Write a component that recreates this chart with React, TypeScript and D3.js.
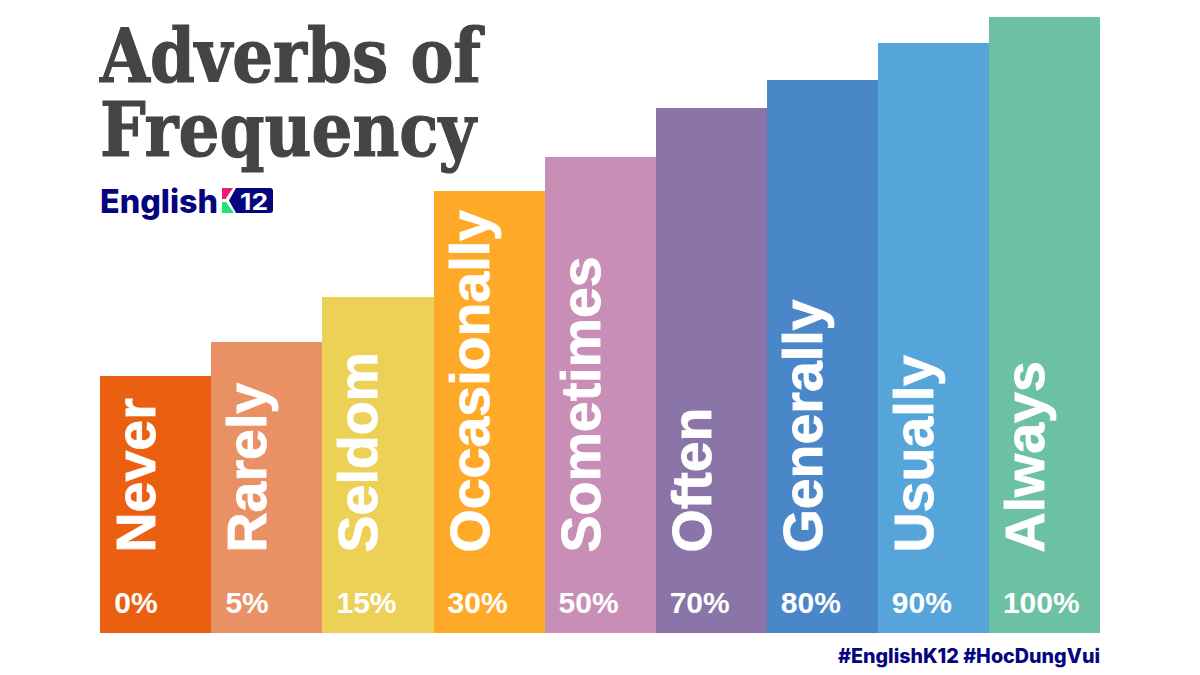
import * as d3 from "d3";

const adverbs = ["Never", "Rarely", "Seldom", "Occasionally", "Sometimes", "Often", "Generally", "Usually", "Always"];
const percents = ["0%", "5%", "15%", "30%", "50%", "70%", "80%", "90%", "100%"];
// bar heights are not proportional to the percentages
const heights = [257, 291, 336, 442, 476, 525, 553, 590, 616];
const colors = ["#EA5F10", "#E99164", "#EDD056", "#FFA928", "#C98EB6", "#8B75A8", "#4A87C8", "#55A5DA", "#6CC1A3"];

const width = 1200;
const height = 675;
const baseline = 633;

export default function App() {
  const x = d3.scaleBand<string>().domain(adverbs).range([100.3, 1100]);
  const y = d3.scaleLinear().domain([0, 616]).range([baseline, 17]);

  return (
    <svg
      width={width}
      height={height}
      viewBox={`0 0 ${width} ${height}`}
      style={{ position: "fixed", left: 0, top: 0, background: "#fff" }}
    >
      <g fontFamily="'DejaVu Serif'" fontWeight="bold" fontSize={74} fill="#444444" stroke="#444444" strokeWidth={1.2}>
        <text x={100} y={82} textLength={381} lengthAdjust="spacingAndGlyphs">Adverbs of</text>
        <text x={100} y={156} textLength={376} lengthAdjust="spacingAndGlyphs">Frequency</text>
      </g>

      {/* logo */}
      <g>
        <text x={100} y={213} fontFamily="Inter" fontWeight={800} fontSize={33} fill="#04057F" textLength={118} lengthAdjust="spacingAndGlyphs">English</text>
        <path d="M236 188 H270 Q273 188 273 191 V210 Q273 213 270 213 H236 L229 200.5 Z" fill="#04057F" />
        <path d="M222 188 H233 L225.5 199 H222 Z" fill="#EE1C78" />
        <path d="M222 202 H226 L234 213 H222 Z" fill="#1FE27A" />
        <text x={240} y={210} fontFamily="Inter" fontWeight={700} fontSize={23} fill="#fff" textLength={28} lengthAdjust="spacingAndGlyphs">12</text>
      </g>

      {adverbs.map((d, i) => {
        const left = x(d)!;
        return (
          <g key={d}>
            <rect x={left} y={y(heights[i])} width={x.bandwidth()} height={baseline - y(heights[i])} fill={colors[i]} shapeRendering="crispEdges" />
            <text
              transform={`translate(${left + 55},552.5) rotate(-90)`}
              fontFamily="'Liberation Sans'"
              fontWeight="bold"
              fontSize={55.5}
              fill="#fff"
              stroke="#fff"
              strokeWidth={0.8}
            >
              {d}
            </text>
            <text x={left + 14} y={613} fontFamily="'Liberation Sans'" fontWeight="bold" fontSize={30} fill="#fff">
              {percents[i]}
            </text>
          </g>
        );
      })}

      <text x={838} y={663} fontFamily="Inter" fontWeight={800} fontSize={19.5} fill="#04057F" textLength={262} lengthAdjust="spacingAndGlyphs">
        #EnglishK12 #HocDungVui
      </text>
    </svg>
  );
}
